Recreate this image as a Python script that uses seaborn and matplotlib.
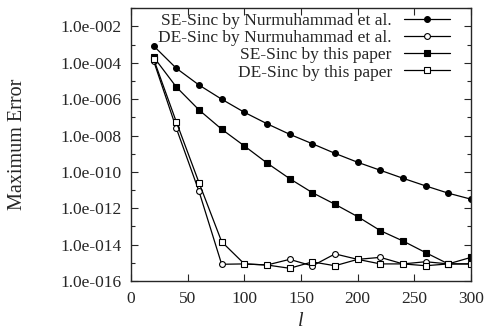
import numpy as np
import pandas as pd
import seaborn as sns
import matplotlib
matplotlib.use("Agg")
import matplotlib.pyplot as plt
from matplotlib.ticker import FixedLocator, FixedFormatter, NullFormatter

sns.set_style("ticks")
plt.rcParams['font.family'] = ['Liberation Serif', 'DejaVu Serif']
plt.rcParams['mathtext.fontset'] = 'custom'
plt.rcParams['mathtext.it'] = 'Liberation Serif:italic'

l_vals = [20, 40, 60, 80, 100, 120, 140, 160, 180, 200, 220, 240, 260, 280, 300]

# log10 of maximum error
se_nurm = [-3.07, -4.30, -5.22, -6.00, -6.72, -7.35, -7.93, -8.45, -8.98, -9.47,
           -9.91, -10.35, -10.77, -11.17, -11.50]
de_nurm = [-3.90, -7.60, -11.07, -15.08, -15.06, -15.12, -14.81, -15.17, -14.51, -14.81,
           -14.70, -15.06, -14.94, -15.06, -15.06]
se_this = [-3.68, -5.33, -6.59, -7.65, -8.57, -9.51, -10.37, -11.14, -11.78, -12.46,
           -13.23, -13.80, -14.44, -15.06, -14.70]
de_this = [-3.80, -7.25, -10.59, -13.84, -15.06, -15.12, -15.30, -14.95, -15.16, -14.81,
           -15.06, -15.06, -15.16, -15.06, -15.06]

labels = ["SE-Sinc by Nurmuhammad et al.", "DE-Sinc by Nurmuhammad et al.",
          "SE-Sinc by this paper", "DE-Sinc by this paper"]
series = [se_nurm, de_nurm, se_this, de_this]
markers = ["o", "o", "s", "s"]
faces = ["black", "white", "black", "white"]
msizes = [4.2, 4.2, 5.0, 4.6]

y_ticks = [1e-2, 1e-4, 1e-6, 1e-8, 1e-10, 1e-12, 1e-14, 1e-16]
y_ticklabels = ["1.0e-002", "1.0e-004", "1.0e-006", "1.0e-008",
                "1.0e-010", "1.0e-012", "1.0e-014", "1.0e-016"]
x_ticks = [0, 50, 100, 150, 200, 250, 300]

fig = plt.figure(figsize=(4.86, 3.34), dpi=100)
ax = fig.add_axes([131/486, 1 - 281/334, 340/486, (281 - 8.3)/334])

for lab, vals, mk, fc, ms in zip(labels, series, markers, faces, msizes):
    df = pd.DataFrame({"l": l_vals, "err": 10.0 ** np.array(vals)})
    sns.lineplot(data=df, x="l", y="err", ax=ax, color="black", linewidth=0.9,
                 marker=mk, markersize=ms, markerfacecolor=fc,
                 markeredgecolor="black", markeredgewidth=0.8, label=lab,
                 legend=False)

ax.set_yscale("log")
ax.set_xlim(0, 300)
ax.set_ylim(1e-16, 1e-1)
ax.yaxis.set_major_locator(FixedLocator(y_ticks))
ax.yaxis.set_major_formatter(FixedFormatter(y_ticklabels))
ax.yaxis.set_minor_locator(FixedLocator([10.0 ** k for k in range(-15, 0, 2)]))
ax.yaxis.set_minor_formatter(NullFormatter())
ax.set_xticks(x_ticks)
ax.set_xticklabels([str(v) for v in x_ticks])

ax.tick_params(which="both", direction="in", top=True, right=True,
               labelsize=12.5, width=0.8, pad=7)
ax.tick_params(which="major", length=5)
ax.tick_params(which="minor", length=3)
for sp in ax.spines.values():
    sp.set_linewidth(1.0)
    sp.set_visible(True)

ax.set_xlabel("$l$", fontsize=14.5)
ax.xaxis.set_label_coords(0.5, -0.113)
ax.set_ylabel("Maximum Error", fontsize=14.5)
ax.yaxis.set_label_coords(-0.305, 0.5)

handles = ax.get_lines()[:4]
leg = ax.legend(handles, labels, loc="upper right", markerfirst=False,
                frameon=False, fontsize=12.5, handlelength=2.65, handletextpad=0.7,
                labelspacing=0.05, borderaxespad=0.0, borderpad=0.0,
                bbox_to_anchor=(1 - 21/340, 1 - 5/272.7))

fig.savefig("out.png", dpi=100)
